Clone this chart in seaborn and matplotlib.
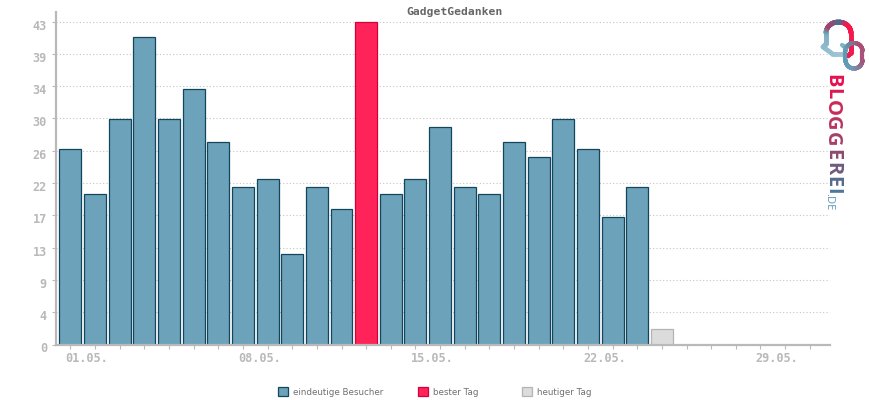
import numpy as np
import pandas as pd
import matplotlib
matplotlib.use('Agg')
import matplotlib.pyplot as plt
import seaborn as sns
from matplotlib.collections import LineCollection
from matplotlib.patches import Patch
from matplotlib.transforms import ScaledTranslation

title = 'GadgetGedanken'
days = [f'{d:02d}.05.' for d in range(1, 32)]
visitors = [26, 20, 30, 41, 30, 34, 27, 21, 22, 12, 21, 18, 43, 20, 22, 29,
            21, 20, 27, 25, 30, 26, 17, 21, 2]
best_day = '13.05.'
today = '25.05.'
y_ticks = [0, 4.3, 8.6, 12.9, 17.2, 21.5, 25.8, 30.1, 34.4, 38.7, 43]
y_labels = ['0', '4', '9', '13', '17', '22', '26', '30', '34', '39', '43']
labelled_days = ['01.05.', '08.05.', '15.05.', '22.05.', '29.05.']
legend_names = ['eindeutige Besucher', 'bester Tag', 'heutiger Tag']
legend_left = [275, 415, 519]

GREY = '#b9b9b9'
plt.rcParams['font.family'] = ['DejaVu Sans Mono']

df = pd.DataFrame({'day': days[:len(visitors)], 'visitors': visitors})
df['kind'] = legend_names[0]
df.loc[df['day'] == best_day, 'kind'] = legend_names[1]
df.loc[df['day'] == today, 'kind'] = legend_names[2]

fig = plt.figure(figsize=(8.7, 4), dpi=100)
ax = fig.add_axes([56 / 870, 1 - 344.5 / 400, (830 - 56) / 870, (344.5 - 11.5) / 400])

palette = {legend_names[0]: '#6ca3bb', legend_names[1]: '#ff2359', legend_names[2]: '#dcdcdc'}
sns.barplot(data=df, x='day', y='visitors', hue='kind', order=days, palette=palette,
            dodge=False, width=0.89, legend=False, ax=ax, zorder=3, saturation=1)

edges = {legend_names[0]: '#12465c', legend_names[1]: '#d5003a', legend_names[2]: '#b4b4b4'}
for container, name in zip(ax.containers, df['kind'].unique()):
    for bar in container:
        bar.set_edgecolor(edges[name])
        bar.set_linewidth(0.9)

ax.set_xlim(-0.585, 30.82)
ax.set_ylim(0, 44.35)
ax.set_xlabel('')
ax.set_ylabel('')
ax.set_yticks(y_ticks, y_labels)
ax.set_xticks(range(len(days)), [d if d in labelled_days else '' for d in days])
ax.grid(axis='y', color='#c4c4c4', linestyle=(0, (1, 2)), linewidth=0.8, zorder=1)
ax.set_axisbelow(True)
for side in ['top', 'right']:
    ax.spines[side].set_visible(False)
for side in ['left', 'bottom']:
    ax.spines[side].set_color(GREY)
    ax.spines[side].set_linewidth(1.6)
    ax.spines[side].set_zorder(4)
ax.tick_params(axis='y', colors=GREY, labelsize=8.6, length=3, width=0.8, pad=3.5)
ax.tick_params(axis='x', colors=GREY, labelsize=8.6, length=3, width=0.8, pad=2.5)
for lab in ax.get_yticklabels():
    lab.set_fontweight('bold')
    lab.set_transform(lab.get_transform() + ScaledTranslation(0, -3 / 100, fig.dpi_scale_trans))
for lab in ax.get_xticklabels():
    lab.set_ha('left')
    lab.set_fontweight('bold')
    lab.set_transform(lab.get_transform() + ScaledTranslation(-5 / 100, 0, fig.dpi_scale_trans))

fig.text(455 / 870, 1 - 12 / 400, title, ha='center', va='center', fontsize=8.2,
         fontweight='bold', color='#666666')

# one legend per entry so each sits where the reference has it
for name, left in zip(legend_names, legend_left):
    h = Patch(facecolor=palette[name], edgecolor=edges[name], linewidth=0.9)
    leg = fig.legend([h], [name], loc='center left', bbox_to_anchor=(left / 870, 1 - 392 / 400),
                     frameon=False, fontsize=6.3, labelcolor='#707070', handlelength=1.1,
                     handleheight=1.1, handletextpad=0.55, borderpad=0, borderaxespad=0.4)
    leg.get_texts()[0].set_family('DejaVu Sans')

# logo in pixel coordinates
logo = fig.add_axes([0, 0, 1, 1], zorder=5)
logo.set_xlim(0, 870)
logo.set_ylim(400, 0)
logo.axis('off')
logo.patch.set_alpha(0)


def gradient_line(x, y, stops, lw):
    pts = np.column_stack([x, y])
    segs = np.stack([pts[:-1], pts[1:]], axis=1)
    cmap = matplotlib.colors.LinearSegmentedColormap.from_list('g', stops)
    cols = cmap(np.linspace(0, 1, len(segs)))
    logo.add_collection(LineCollection(segs, colors=cols, linewidths=lw, capstyle='round'))


def upsample(x, y, n=12):
    t = np.linspace(0, 1, n)
    xs = np.concatenate([x[i] + (x[i + 1] - x[i]) * t for i in range(len(x) - 1)])
    ys = np.concatenate([y[i] + (y[i + 1] - y[i]) * t for i in range(len(y) - 1)])
    return xs, ys


# bubble: tail, left side, top arc, right side
a = np.linspace(np.pi, 2 * np.pi, 40)
bx = np.r_[843, 832, 823, 826, 826, 838.5 + 12.5 * np.cos(a), 851, 851, 848]
by = np.r_[53.5, 53.5, 47, 44, 36, 33 + 11 * np.sin(a), 48, 53, 56]
bx, by = upsample(bx, by, 6)
gradient_line(bx, by, ['#9fc6d6', '#6fa6bd', '#a8406c', '#8d4f78', '#3f7592', '#e8205a', '#ff1446', '#f01a50'], 3.4)

# second loop
a1 = np.linspace(np.pi, 2 * np.pi, 30)
a2 = np.linspace(0, np.pi, 30)
rx = np.r_[842, 845, 845, 854 + 8.5 * np.cos(a1), 854 + 8.5 * np.cos(a2), 845, 845]
ry = np.r_[45, 47, 50, 51 + 8 * np.sin(a1), 60 + 8.5 * np.sin(a2), 60, 51]
rx, ry = upsample(rx, ry, 4)
gradient_line(rx, ry, ['#7fb3c8', '#5f8fa8', '#b24a70', '#a05a80', '#6f9cb5', '#5c9ab5'], 3.0)

letters = 'BLOGGEREI'
letter_colors = ['#e6104f', '#da1a52', '#c92a5a', '#b83560', '#a53f68', '#8d4a70', '#70597f', '#566a8c', '#4a7898']
letter_tops = [74, 88, 100, 116, 132, 149, 162, 176, 188]
for ch, c, top in zip(letters, letter_colors, letter_tops):
    logo.text(832, top, ch, rotation=-90, family='Open Sans', fontweight='bold', fontsize=14.5,
              color=c, ha='center', va='top')
logo.text(829, 193, '.DE', rotation=-90, family='Open Sans', fontsize=8, color='#5b97b5',
          ha='center', va='top')

fig.savefig('out.png', dpi=100)
